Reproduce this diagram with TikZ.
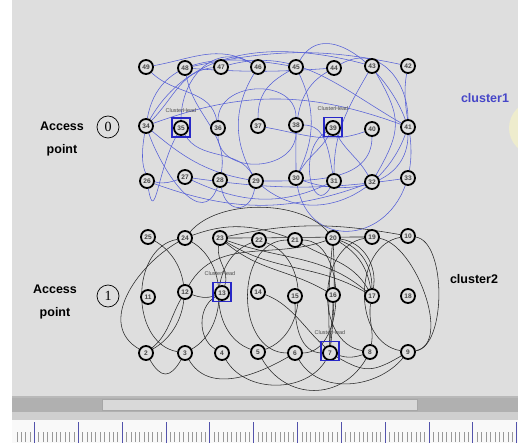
\documentclass[tikz,border=0pt]{standalone}
\usepackage{fontspec}
\setmainfont{Liberation Sans}
\newfontfamily\numserif{Liberation Serif}
\pgfdeclarelayer{back}
\pgfdeclarelayer{links}
\pgfsetlayers{back,links,main}
\definecolor{panel}{RGB}{222,222,222}
\definecolor{lblue}{RGB}{85,95,215}
\definecolor{chblue}{RGB}{40,40,200}
\definecolor{cl1}{RGB}{70,70,200}
\definecolor{paley}{RGB}{238,236,205}
\begin{document}
\begin{tikzpicture}[x=1pt,y=-1pt,
  mote/.style={circle,draw=black,line width=1.8pt,fill=gray!25,inner sep=0pt,minimum size=14pt,font=\bfseries\fontsize{6.6}{6.6}\selectfont,text=black!72},
  bl/.style={draw=lblue,line width=0.55pt},
  bk/.style={draw=black!85,line width=0.55pt},
  chbox/.style={draw=chblue,line width=1.3pt,minimum width=18pt,minimum height=19pt,inner sep=0pt},
  chlabel/.style={font=\fontsize{5.5}{5.5}\selectfont,text=black!70,inner sep=0pt},
  aptext/.style={font=\bfseries\fontsize{12.5}{23}\selectfont,align=center,inner sep=0pt},
  apnode/.style={circle,draw=black,line width=0.7pt,minimum size=22pt,inner sep=0pt,font=\numserif\fontsize{14}{14}\selectfont},
  cltext/.style={font=\bfseries\fontsize{12.5}{12.5}\selectfont,inner sep=0pt}]
\useasboundingbox (0,0) rectangle (518,443);
\clip (0,0) rectangle (518,443);
% ---------------- window background
\begin{pgfonlayer}{back}
\fill[white] (0,0) rectangle (518,443);
\fill[panel] (12,0) rectangle (518,396);
\fill[paley] (536,128) circle (27);
\fill[gray!55] (12,396) rectangle (518,398);
\fill[gray!62] (12,398) rectangle (518,412);
\fill[gray!30,draw=gray!70,line width=0.4pt] (102,399.5) rectangle (417,410.5);
\fill[gray!38] (12,412) rectangle (518,420);
\fill[white!95!gray] (12,420) rectangle (518,443);
\foreach \k in {0,...,11}{
  \draw[draw=blue!35!gray,line width=0.7pt] ({34.3+43.85*\k},422) -- ({34.3+43.85*\k},443);
  \foreach \m in {1,...,9}{
    \pgfmathsetmacro{\xx}{34.3+43.85*\k+4.385*\m}
    \draw[gray!80,line width=0.45pt] (\xx,432) -- (\xx,442);
  }
}
\foreach \m in {1,...,4}{
  \draw[gray!80,line width=0.45pt] ({34.3-4.385*\m},432) -- ({34.3-4.385*\m},442);
}
\end{pgfonlayer}
% ---------------- labels
\node[aptext] (apl0) at (62,139) {Access\\point};
\node[apnode] (ap0) at (108,127) {0};
\node[aptext] (apl1) at (55,302) {Access\\point};
\node[apnode] (ap1) at (108,296) {1};
\node[cltext,text=cl1] (c1) at (485,98) {cluster1};
\node[cltext] (c2) at (474,279) {cluster2};
% ---------------- cluster 1 nodes
\node[mote] (t49) at (146,67) {49};
\node[mote] (t48) at (185,68) {48};
\node[mote] (t47) at (221,67) {47};
\node[mote] (t46) at (258,67) {46};
\node[mote] (t45) at (296,67) {45};
\node[mote] (t44) at (334,68) {44};
\node[mote] (t43) at (372,66) {43};
\node[mote] (t42) at (408,66) {42};
\node[mote] (t34) at (146,126) {34};
\node[mote] (t35) at (181,128) {35};
\node[mote] (t36) at (218,128) {36};
\node[mote] (t37) at (258,126) {37};
\node[mote] (t38) at (296,125) {38};
\node[mote] (t39) at (333,128) {39};
\node[mote] (t40) at (372,129) {40};
\node[mote] (t41) at (408,127) {41};
\node[mote] (t26) at (147,181) {26};
\node[mote] (t27) at (185,177) {27};
\node[mote] (t28) at (220,180) {28};
\node[mote] (t29) at (256,181) {29};
\node[mote] (t30) at (296,178) {30};
\node[mote] (t31) at (334,181) {31};
\node[mote] (t32) at (372,182) {32};
\node[mote] (t33) at (408,178) {33};
\node[chbox] (h35) at (181,127.5) {};
\node[chlabel] (lh35) at (181,111) {ClusterHead};
\node[chbox] (h39) at (333,127) {};
\node[chlabel] (lh39) at (333,109) {ClusterHead};
% ---------------- cluster 2 nodes
\node[mote] (b25) at (148,237) {25};
\node[mote] (b24) at (185,238) {24};
\node[mote] (b23) at (220,238) {23};
\node[mote] (b22) at (259,240) {22};
\node[mote] (b21) at (295,240) {21};
\node[mote] (b20) at (333,238) {20};
\node[mote] (b19) at (372,237) {19};
\node[mote] (b10) at (408,236) {10};
\node[mote] (b11) at (148,297) {11};
\node[mote] (b12) at (185,292) {12};
\node[mote] (b13) at (222,293) {13};
\node[mote] (b14) at (258,292) {14};
\node[mote] (b15) at (295,296) {15};
\node[mote] (b16) at (333,295) {16};
\node[mote] (b17) at (372,296) {17};
\node[mote] (b18) at (408,296) {18};
\node[mote] (b2) at (146,353) {2};
\node[mote] (b3) at (185,353) {3};
\node[mote] (b4) at (222,353) {4};
\node[mote] (b5) at (258,352) {5};
\node[mote] (b6) at (295,353) {6};
\node[mote] (b7) at (330,353) {7};
\node[mote] (b8) at (370,352) {8};
\node[mote] (b9) at (408,352) {9};
\node[chbox] (h13) at (222,292) {};
\node[chlabel] (lh13) at (220,274) {ClusterHead};
\node[chbox] (h7) at (330,351) {};
\node[chlabel] (lh7) at (330,333) {ClusterHead};
% ---------------- cluster 1 links
\begin{pgfonlayer}{links}
\draw[bl] (t34) to[out=45,in=185] (t47);
\draw[bl] (t34) to[out=80,in=170,looseness=1.1] (t45);
\draw[bl] (t34) to[out=60,in=165] (t43);
\draw[bl] (t48) to[out=12,in=168] (t42);
\draw[bl] (t48) to[out=-4,in=184] (t44);
\draw[bl] (t47) to[out=15,in=150] (t41);
\draw[bl] (t49) to[out=10,in=150] (t46);
\draw[bl] (t34) to[out=-70,in=-110,looseness=1.3] (t28);
\draw[bl] (t34) to[out=-40,in=170] (t29);
\draw[bl] (t34) to[out=-100,in=200,looseness=1.6] (t27);
\draw[bl] (t34) to[out=20,in=160] (t41);
\draw[bl] (t27) to[out=-8,in=188] (t33);
\draw[bl] (t26) to[out=-20,in=200] (t32);
\draw[bl] (t27) to[out=-25,in=-155] (t31);
\draw[bl] (t35) to[out=-60,in=120] (t29);
\draw[bl] (t35) to[out=-120,in=-80,looseness=1.6] (t26);
\draw[bl] (t35) to[out=90,in=150,looseness=1.2] (t46);
\draw[bl] (t36) to[out=90,in=90,looseness=1.3] (t38);
\draw[bl] (t36) to[out=-90,in=-90,looseness=1.3] (t38);
\draw[bl] (t49) to[out=-45,in=100] (t36);
\draw[bl] (t48) to[out=-80,in=80] (t28);
\draw[bl] (t46) to[bend right=30] (t29);
\draw[bl] (t45) to[bend left=25] (t30);
\draw[bl] (t28) to[out=-80,in=-100,looseness=2] (t29);
\draw[bl] (t39) to[out=-120,in=60] (t30);
\draw[bl] (t39) to[out=-60,in=120] (t32);
\draw[bl] (t39) to[out=-150,in=-120,looseness=1.6] (t31);
\draw[bl] (t44) to[out=-150,in=90] (t30);
\draw[bl] (t41) to[out=90,in=30,looseness=1.2] (t44);
\draw[bl] (t41) to[out=110,in=60,looseness=1.1] (t45);
\draw[bl] (t41) to[out=-90,in=-20,looseness=1.1] (t30);
\draw[bl] (t41) to[out=-110,in=-40,looseness=1.1] (t29);
\draw[bl] (t38) to[out=0,in=100] (t31);
\draw[bl] (t40) to[out=-90,in=0] (t29);
\draw[bl] (t43) to[out=-120,in=90] (t31);
\draw[bl] (t42) to[out=-100,in=80] (t33);
\draw[bl] (t43) to[out=-60,in=60,looseness=1.3] (t32);
\draw[bl] (t45) to[out=-150,in=90,looseness=1.1] (t37);
\draw[bl] (t30) to[out=-80,in=-110,looseness=1.5] (t33);
\draw[bl] (t37) to[out=-10,in=200] (t40);
% ---------------- cluster 2 links
\draw[bk] (b24) to[out=190,in=170,looseness=1.1] (b3);
\draw[bk] (b24) to[out=210,in=150,looseness=1.1] (b2);
\draw[bk] (b24) to[out=-30,in=30] (b3);
\draw[bk] (b25) to[out=-30,in=30,looseness=1.1] (b2);
\draw[bk] (b12) to[out=-120,in=40] (b2);
\draw[bk] (b2) to[out=-60,in=-120,looseness=1.8] (b3);
\draw[bk] (b23) to[out=0,in=180] (b19);
\draw[bk] (b23) to[out=12,in=170] (b10);
\draw[bk] (b23) to[out=-20,in=140] (b17);
\draw[bk] (b23) to[out=-32,in=150] (b17);
\draw[bk] (b24) to[out=20,in=160] (b21);
\draw[bk] (b24) to[out=50,in=130,looseness=0.8] (b20);
\draw[bk] (b12) to[out=60,in=200] (b20);
\draw[bk] (b12) to[out=-20,in=200] (b13);
\draw[bk] (b13) to[out=-150,in=150] (b4);
\draw[bk] (b13) to[out=70,in=-100] (b23);
\draw[bk] (b22) to[out=200,in=160,looseness=1.1] (b5);
\draw[bk] (b22) to[out=-20,in=20,looseness=1.1] (b5);
\draw[bk] (b14) to[out=-20,in=-160] (b8);
\draw[bk] (b20) to[bend left=4] (b7);
\draw[bk] (b20) to[bend right=4] (b7);
\draw[bk] (b20) to[out=-20,in=90] (b17);
\draw[bk] (b20) to[out=-8,in=80] (b17);
\draw[bk] (b20) to[out=-32,in=100] (b17);
\draw[bk] (b17) to[out=-100,in=80] (b8);
\draw[bk] (b19) to[out=-10,in=10,looseness=0.8] (b9);
\draw[bk] (b10) to[out=190,in=170,looseness=1.1] (b9);
\draw[bk] (b10) to[out=-8,in=8,looseness=0.7] (b9);
\draw[bk] (b19) to[out=190,in=170,looseness=1.1] (b8);
\draw[bk] (b21) to[out=180,in=180,looseness=1.2] (b6);
\draw[bk] (b21) to[out=0,in=0,looseness=1.0] (b6);
\draw[bk] (b15) to[out=-90,in=180] (b7);
\draw[bk] (b16) to[out=-90,in=90] (b7);
\draw[bk] (b4) to[out=-60,in=-120] (b7);
\draw[bk] (b3) to[out=-60,in=-150] (b6);
\draw[bk] (b5) to[out=-60,in=-120,looseness=1.2] (b8);
\draw[bk] (b6) to[out=-60,in=-130] (b9);
\draw[bk] (b7) to[out=-30,in=-150,looseness=1.3] (b9);
\draw[bk] (b17) to[out=120,in=-30] (b21);
\draw[bk] (b16) to[out=150,in=-40] (b23);
\end{pgfonlayer}
\end{tikzpicture}
\end{document}
